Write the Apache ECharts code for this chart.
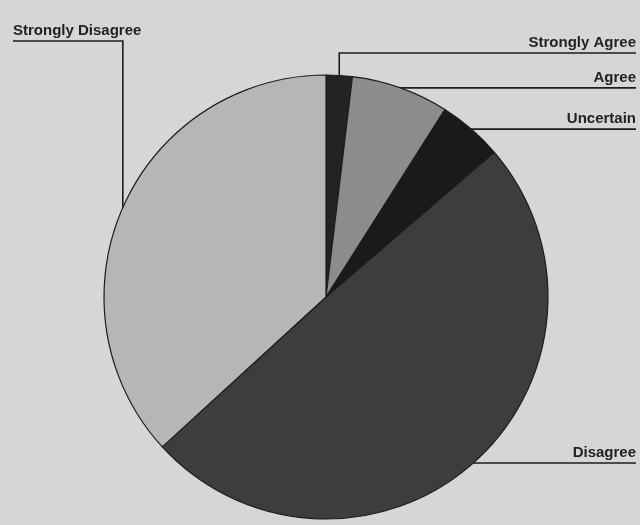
<!DOCTYPE html>
<html>
<head>
<meta charset="utf-8">
<script src="https://cdn.jsdelivr.net/npm/echarts@6/dist/echarts.min.js"></script>
<style>
  html, body { margin: 0; padding: 0; background: #d5d7d7; }
  #chart { width: 640px; height: 525px; }
</style>
</head>
<body>
<div id="chart"></div>
<script>
// Survey responses, clockwise from 12 o'clock
var categories = ['Strongly Agree', 'Agree', 'Uncertain', 'Disagree', 'Strongly Disagree'];
var values = [1.9, 7.1, 4.7, 49.5, 36.8];
var sliceColors = ['#232323', '#8c8c8c', '#1a1a1a', '#3d3d3d', '#b6b6b6'];

var RIGHT_EDGE = 636;   // right end of the leader lines on the right side
var LEFT_EDGE = 13;     // left end of the "Strongly Disagree" leader

var chart = echarts.init(document.getElementById('chart'), null, { renderer: 'canvas' });

var data = categories.map(function (name, i) {
  return { name: name, value: values[i], itemStyle: { color: sliceColors[i] } };
});

chart.setOption({
  backgroundColor: '#d5d7d7',
  animation: false,
  series: [{
    type: 'pie',
    center: [326, 297],
    radius: [0, 222],
    startAngle: 90,
    clockwise: true,
    avoidLabelOverlap: false,
    data: data,
    itemStyle: { borderColor: '#1c1c1c', borderWidth: 1.2 },
    label: {
      show: true,
      formatter: '{b}',
      color: '#222',
      fontFamily: 'Liberation Sans, Arial, sans-serif',
      fontSize: 15,
      fontWeight: 'bold'
    },
    labelLine: {
      show: true,
      length: 10,
      length2: 10,
      lineStyle: { color: '#1c1c1c', width: 1.6 }
    },
    labelLayout: function (params) {
      var pts = params.labelLinePoints;
      var p0 = pts[0];  // point on the rim at the slice's mid angle
      var name = categories[params.dataIndex];
      if (name === 'Strongly Agree') {
        var y1 = 53;
        return {
          x: RIGHT_EDGE, y: y1 - 3, align: 'right', verticalAlign: 'bottom',
          labelLinePoints: [p0, [p0[0], y1], [RIGHT_EDGE, y1]]
        };
      }
      if (name === 'Strongly Disagree') {
        var y2 = 41;
        return {
          x: LEFT_EDGE, y: y2 - 3, align: 'left', verticalAlign: 'bottom',
          labelLinePoints: [p0, [p0[0], y2], [LEFT_EDGE, y2]]
        };
      }
      return {
        x: RIGHT_EDGE, y: p0[1] - 3, align: 'right', verticalAlign: 'bottom',
        labelLinePoints: [p0, [p0[0] + 1, p0[1]], [RIGHT_EDGE, p0[1]]]
      };
    }
  }]
});
</script>
</body>
</html>
